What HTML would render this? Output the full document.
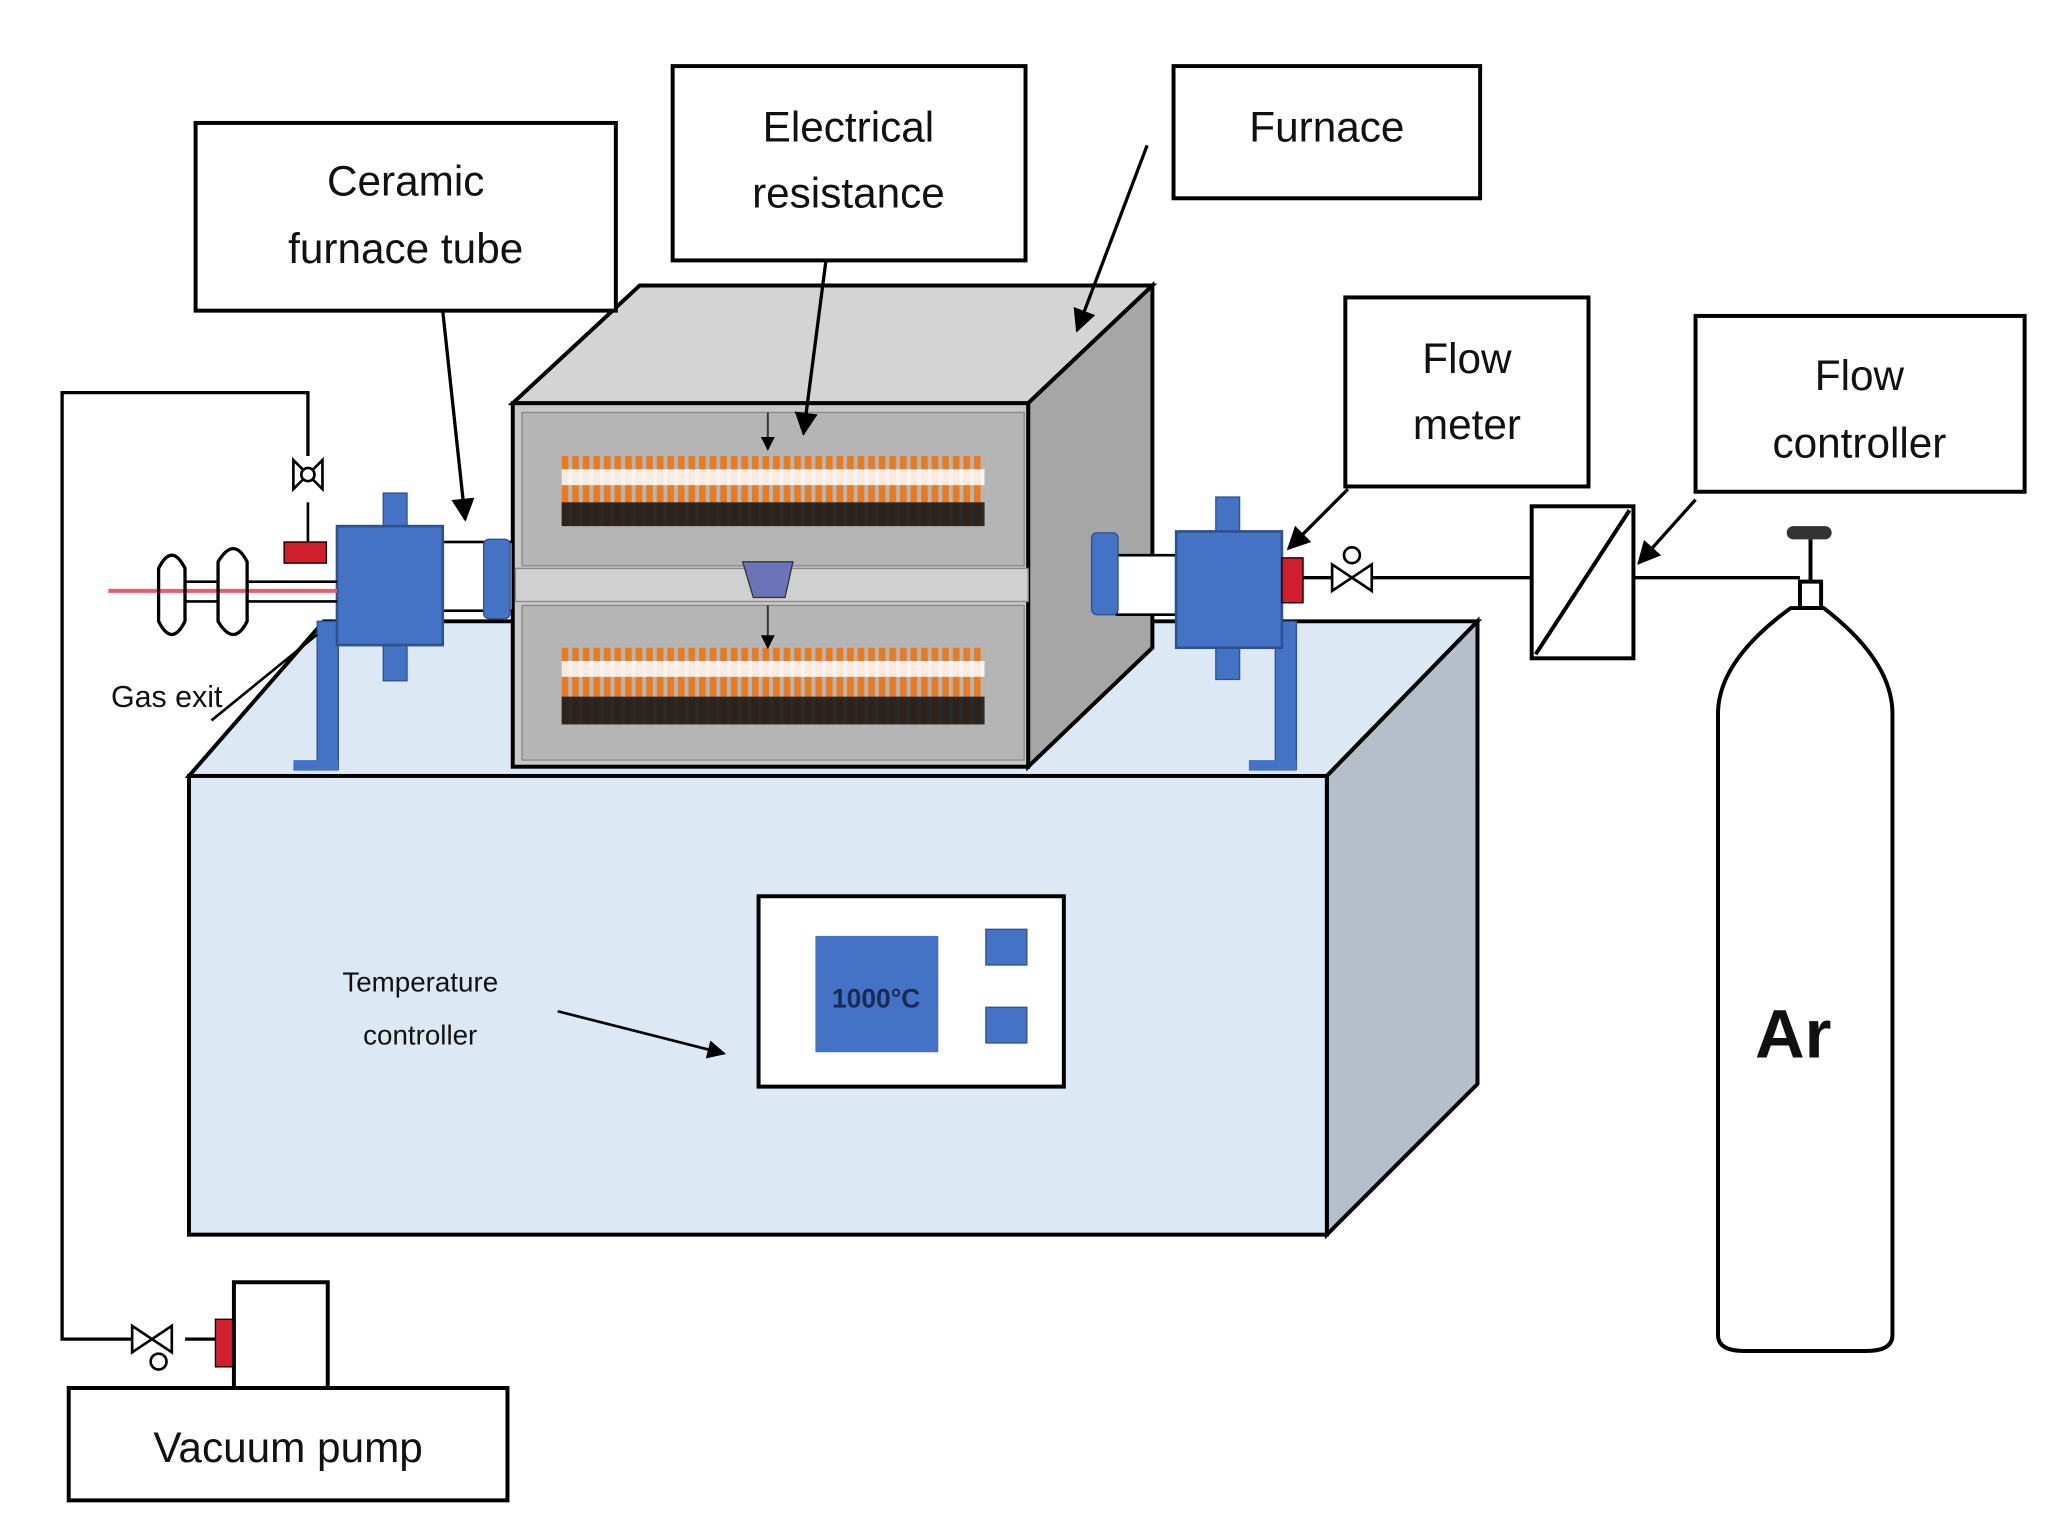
<!DOCTYPE html>
<html><head><meta charset="utf-8"><style>
html,body{margin:0;padding:0;background:#fff}
svg{display:block}
text{font-family:"Liberation Sans","DejaVu Sans",sans-serif;fill:#111}
</style></head><body>
<svg width="2071" height="1530" viewBox="0 0 1553 1147" preserveAspectRatio="none" xmlns="http://www.w3.org/2000/svg">
<defs>
<pattern id="coil" x="425" y="0" width="8" height="60" patternUnits="userSpaceOnUse">
<rect x="0" y="0" width="5" height="60" fill="#e87a1f"/>
</pattern>
<marker id="ah" viewBox="0 0 10 10" refX="9" refY="5" markerWidth="7" markerHeight="7" orient="auto"><path d="M0,0 L10,5 L0,10 z" fill="#000"/></marker>
</defs>
<rect width="1553" height="1147" fill="#fff"/>
<g transform="scale(0.991)">
<polyline points="233,345 233,297 47,297 47,1013 100,1013" fill="none" stroke="#000" stroke-width="2.5"/>
<line x1="140" y1="1013" x2="165" y2="1013" stroke="#000" stroke-width="2.5"/>

<polygon points="143,587 245,470 1118,470 1004,587" fill="#dde8f5" stroke="#000" stroke-width="3"/>
<polygon points="1004,587 1118,470 1118,820 1004,934" fill="#b4bfca" stroke="#000" stroke-width="3"/>
<rect x="143" y="587" width="861" height="347" fill="#dde8f5" stroke="#000" stroke-width="3"/>

<polygon points="388,305 484,216 872,216 778,305" fill="#d4d4d4" stroke="#000" stroke-width="3"/>
<polygon points="778,305 872,216 872,490 778,580" fill="#a6a6a6" stroke="#000" stroke-width="3"/>
<rect x="388" y="305" width="390" height="275" fill="#c8c8c8" stroke="#000" stroke-width="3"/>
<rect x="395" y="312" width="380" height="116" fill="#b5b5b5" stroke="#888"/>
<rect x="390" y="430" width="388" height="25" fill="#d0d0d0" stroke="#888"/>
<rect x="395" y="458" width="380" height="117" fill="#b5b5b5" stroke="#888"/>
<rect x="425" y="345" width="320" height="53" fill="url(#coil)"/>
<rect x="425" y="355" width="320" height="12" fill="#fff" opacity="0.85"/>
<rect x="425" y="380" width="320" height="18" fill="#1a1a1a" opacity="0.9"/>
<rect x="425" y="490" width="320" height="58" fill="url(#coil)"/>
<rect x="425" y="500" width="320" height="12" fill="#fff" opacity="0.85"/>
<rect x="425" y="527" width="320" height="21" fill="#1a1a1a" opacity="0.9"/>
<polygon points="562,425 600,425 594,452 570,452" fill="#6b74b8" stroke="#333"/>
<line x1="581" y1="312" x2="581" y2="340" stroke="#333" stroke-width="1.5" marker-end="url(#ah)"/>
<line x1="581" y1="458" x2="581" y2="490" stroke="#333" stroke-width="1.5" marker-end="url(#ah)"/>

<rect x="335" y="410" width="53" height="52" fill="#fff" stroke="#000" stroke-width="2"/>
<rect x="845" y="420" width="45" height="45" fill="#fff" stroke="#000" stroke-width="2"/>
<rect x="366" y="408" width="20" height="60" rx="4" fill="#4472c4" stroke="#2f528f"/>
<rect x="826" y="403" width="20" height="62" rx="4" fill="#4472c4" stroke="#2f528f"/>

<rect x="240" y="470" width="16" height="112" fill="#4472c4" stroke="#2f528f"/>
<rect x="222" y="575" width="34" height="8" fill="#4472c4"/>
<rect x="965" y="470" width="16" height="112" fill="#4472c4" stroke="#2f528f"/>
<rect x="945" y="575" width="36" height="8" fill="#4472c4"/>

<rect x="290" y="373" width="18" height="142" fill="#4472c4" stroke="#2f528f"/>
<rect x="255" y="398" width="80" height="90" fill="#4472c4" stroke="#2f528f" stroke-width="2"/>
<rect x="920" y="376" width="18" height="138" fill="#4472c4" stroke="#2f528f"/>
<rect x="890" y="402" width="80" height="88" fill="#4472c4" stroke="#2f528f" stroke-width="2"/>
<rect x="970" y="422" width="16" height="34" fill="#d0202e" stroke="#000"/>

<line x1="82" y1="447" x2="255" y2="447" stroke="#f25a6a" stroke-width="3"/>
<path d="M120,430 q10,-20 20,0 v40 q-10,20 -20,0 z M165,425 q12,-20 22,0 v45 q-10,20 -22,0 z" fill="none" stroke="#000" stroke-width="2.5"/>
<path d="M140,440 h25 M140,455 h25 M187,440 h68 M187,455 h68" stroke="#000" stroke-width="2"/>
<rect x="215" y="410" width="32" height="16" fill="#d0202e" stroke="#000"/>
<path d="M222,348 l22,22 v-22 l-22,22 z" fill="none" stroke="#000" stroke-width="2"/>
<circle cx="233" cy="359" r="5" fill="#fff" stroke="#000" stroke-width="2"/>
<line x1="233" y1="380" x2="233" y2="410" stroke="#000" stroke-width="2"/>
<text x="84" y="535" font-size="23">Gas exit</text>
<line x1="160" y1="545" x2="240" y2="480" stroke="#000" stroke-width="2"/>

<line x1="986" y1="437" x2="1160" y2="437" stroke="#000" stroke-width="2.5"/>
<path d="M1008,427 l30,20 v-20 l-30,20 z" fill="#fff" stroke="#000" stroke-width="2"/>
<circle cx="1023" cy="420" r="6" fill="#fff" stroke="#000" stroke-width="2"/>
<rect x="1159" y="383" width="77" height="115" fill="#fff" stroke="#000" stroke-width="3"/>
<line x1="1162" y1="495" x2="1233" y2="386" stroke="#000" stroke-width="3"/>
<line x1="1236" y1="437" x2="1362" y2="437" stroke="#000" stroke-width="2.5"/>

<rect x="1352" y="398" width="34" height="10" rx="5" fill="#333"/>
<path d="M1370,408 v32 M1362,440 h16 v20 h-16 z" fill="none" stroke="#000" stroke-width="3"/>
<path d="M1355,460 q-55,40 -55,80 v470 q0,12 20,12 h92 q20,0 20,-12 v-470 q0,-40 -52,-80 z" fill="#fff" stroke="#000" stroke-width="3"/>
<text x="1328" y="800" font-size="52" font-weight="bold" font-family="Liberation Serif,serif">Ar</text>

<rect x="574" y="678" width="231" height="144" fill="#fff" stroke="#000" stroke-width="3"/>
<rect x="617" y="708" width="93" height="88" fill="#4472c4"/>
<text x="663" y="762" font-size="20" text-anchor="middle" font-weight="bold" style="fill:#1a2a55">1000°C</text>
<rect x="746" y="703" width="31" height="27" fill="#4472c4" stroke="#2f528f"/>
<rect x="746" y="762" width="31" height="27" fill="#4472c4" stroke="#2f528f"/>
<text x="318" y="750" font-size="21" text-anchor="middle">Temperature</text>
<text x="318" y="790" font-size="21" text-anchor="middle">controller</text>
<line x1="422" y1="765" x2="548" y2="797" stroke="#000" stroke-width="2" marker-end="url(#ah)"/>

<path d="M100,1003 l30,20 v-20 l-30,20 z" fill="#fff" stroke="#000" stroke-width="2"/>
<circle cx="120" cy="1030" r="6" fill="#fff" stroke="#000" stroke-width="2"/>
<rect x="163" y="998" width="14" height="36" fill="#d0202e" stroke="#000"/>
<rect x="177" y="970" width="71" height="80" fill="#fff" stroke="#000" stroke-width="3"/>
<rect x="52" y="1050" width="332" height="85" fill="#fff" stroke="#000" stroke-width="3"/>
<text x="218" y="1106" font-size="32" text-anchor="middle">Vacuum pump</text>

<rect x="148" y="93" width="318" height="142" fill="#fff" stroke="#000" stroke-width="3"/>
<text x="307" y="148" font-size="32" text-anchor="middle">Ceramic</text>
<text x="307" y="199" font-size="32" text-anchor="middle">furnace tube</text>
<line x1="335" y1="235" x2="352" y2="393" stroke="#000" stroke-width="2.5" marker-end="url(#ah)"/>

<rect x="509" y="50" width="267" height="147" fill="#fff" stroke="#000" stroke-width="3"/>
<text x="642" y="107" font-size="32" text-anchor="middle">Electrical</text>
<text x="642" y="157" font-size="32" text-anchor="middle">resistance</text>
<line x1="625" y1="197" x2="608" y2="328" stroke="#000" stroke-width="2.5" marker-end="url(#ah)"/>

<rect x="888" y="50" width="232" height="100" fill="#fff" stroke="#000" stroke-width="3"/>
<text x="1004" y="107" font-size="32" text-anchor="middle">Furnace</text>
<line x1="868" y1="110" x2="815" y2="250" stroke="#000" stroke-width="2.5" marker-end="url(#ah)"/>

<rect x="1018" y="225" width="184" height="143" fill="#fff" stroke="#000" stroke-width="3"/>
<text x="1110" y="282" font-size="32" text-anchor="middle">Flow</text>
<text x="1110" y="332" font-size="32" text-anchor="middle">meter</text>
<line x1="1020" y1="370" x2="975" y2="415" stroke="#000" stroke-width="2.5" marker-end="url(#ah)"/>

<rect x="1283" y="239" width="249" height="133" fill="#fff" stroke="#000" stroke-width="3"/>
<text x="1407" y="295" font-size="32" text-anchor="middle">Flow</text>
<text x="1407" y="346" font-size="32" text-anchor="middle">controller</text>
<line x1="1283" y1="378" x2="1240" y2="426" stroke="#000" stroke-width="2.5" marker-end="url(#ah)"/>
</g>
</svg>
</body></html>
